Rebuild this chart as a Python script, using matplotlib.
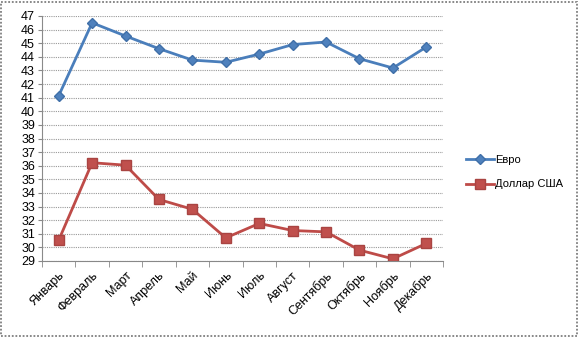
import matplotlib.pyplot as plt
from matplotlib.patches import Rectangle

months = ['Январь', 'Февраль', 'Март', 'Апрель', 'Май', 'Июнь',
          'Июль', 'Август', 'Сентябрь', 'Октябрь', 'Ноябрь', 'Декабрь']
euro = [41.14, 46.5, 45.53, 44.6, 43.76, 43.6, 44.2, 44.9, 45.09, 43.86, 43.18, 44.72]
usd = [30.53, 36.22, 36.04, 33.52, 32.8, 30.7, 31.76, 31.24, 31.14, 29.8, 29.16, 30.29]

plt.rcParams['font.family'] = ['Liberation Sans', 'DejaVu Sans']

fig = plt.figure(figsize=(5.78, 3.37), dpi=100)
W, H = 578, 337
ax = fig.add_axes([42 / W, 1 - 261 / H, (443 - 42) / W, (261 - 16) / H])

# dotted frame round the whole chart
fig.patches.append(Rectangle((1 / W, 1 / H), 1 - 2.5 / W, 1 - 2.5 / H, transform=fig.transFigure,
                             facecolor='white', edgecolor='#7f7f7f', linestyle=(0, (1, 1)),
                             linewidth=1.3, zorder=-1))

x = list(range(len(months)))
ax.plot(x, euro, color='#4a7ebb', lw=2, marker='D', ms=5.5,
        mfc='#4f81bd', mec='#3f6fa8', label='Евро')
ax.plot(x, usd, color='#be4b48', lw=2, marker='s', ms=7,
        mfc='#c0504d', mec='#a94442', label='Доллар США')

ax.set_xlim(-0.5, 11.5)
ax.set_ylim(29, 47)
ax.set_yticks(range(29, 48))
ax.set_xticks(x)
ax.set_xticklabels(months, rotation=45, ha='right', rotation_mode='anchor', fontsize=9)
ax.set_xticks([i - 0.5 for i in range(13)], minor=True)
ax.tick_params(axis='x', which='major', length=0, pad=6)
ax.tick_params(axis='x', which='minor', length=4, color='#888888', direction='out')
ax.tick_params(axis='y', length=3, color='#888888', labelsize=9, pad=2)
ax.grid(axis='y', color='#999999', linestyle=(0, (1, 1)), lw=0.8)
ax.set_axisbelow(True)
for s in ['top', 'right']:
    ax.spines[s].set_visible(False)
ax.spines['left'].set_color('#8a8a8a')
ax.spines['left'].set_linestyle((0, (1, 1)))
ax.spines['bottom'].set_color('#888888')
ax.patch.set_alpha(0)

fig.legend(loc='upper left', bbox_to_anchor=(456 / W, 1 - 145 / H), frameon=False,
           fontsize=8, handlelength=2.5, labelspacing=1.3, handletextpad=0.15)

plt.savefig('out.png')
